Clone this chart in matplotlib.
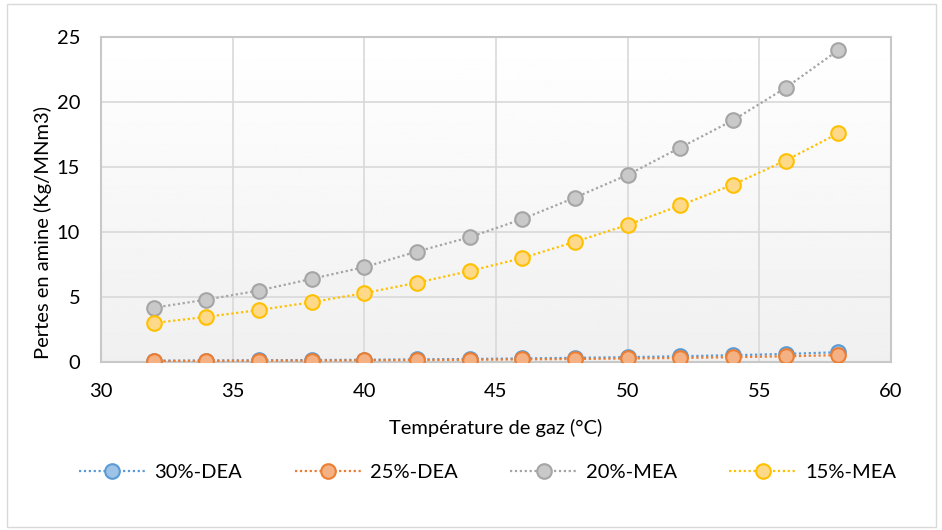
import numpy as np
import matplotlib
matplotlib.use("Agg")
import matplotlib.pyplot as plt
from matplotlib.patches import Rectangle

plt.rcParams['font.family'] = ['Lato', 'DejaVu Sans']

temperature = [32, 34, 36, 38, 40, 42, 44, 46, 48, 50, 52, 54, 56, 58]
dea_30 = [0.10, 0.11, 0.13, 0.15, 0.17, 0.20, 0.23, 0.27, 0.32, 0.37, 0.44, 0.52, 0.62, 0.75]
dea_25 = [0.08, 0.09, 0.10, 0.11, 0.13, 0.15, 0.17, 0.20, 0.23, 0.27, 0.31, 0.37, 0.44, 0.53]
mea_20 = [4.17, 4.8, 5.5, 6.4, 7.3, 8.5, 9.6, 11.0, 12.65, 14.4, 16.5, 18.6, 21.1, 24.0]
mea_15 = [3.0, 3.47, 4.0, 4.6, 5.3, 6.1, 7.0, 8.0, 9.25, 10.55, 12.05, 13.65, 15.5, 17.6]

series = [
    ("30%-DEA", dea_30, "#5b9bd5", "#9dc3e6"),
    ("25%-DEA", dea_25, "#ed7d31", "#f4b183"),
    ("20%-MEA", mea_20, "#a5a5a5", "#c9c9c9"),
    ("15%-MEA", mea_15, "#ffc000", "#ffd98a"),
]

FS = 14.5

fig = plt.figure(figsize=(9.42, 5.30), dpi=100)
fig.patches.append(Rectangle((0.007, 0.006), 0.987, 0.986, transform=fig.transFigure,
                             fill=False, edgecolor="#d9d9d9", linewidth=1.0))

ax = fig.add_axes([0.1072, 0.317, 0.8387, 0.613])

# soft vertical gradient behind the plot area
grad = np.linspace(1.0, 0.94, 256).reshape(-1, 1)
ax.imshow(grad, extent=[0, 1, 0, 1], transform=ax.transAxes, cmap="gray",
          vmin=0, vmax=1, aspect="auto", zorder=0, origin="upper")

for name, vals, edge, face in series:
    ax.plot(temperature, vals, linestyle=(0, (1, 1.2)), color=edge, linewidth=1.6,
            marker="o", markersize=10.5, markerfacecolor=face,
            markeredgecolor=edge, markeredgewidth=1.5, label=name, zorder=3)

ax.set_xlim(30, 60)
ax.set_ylim(0, 25)
ax.set_xticks(np.arange(30, 61, 5))
ax.set_yticks(np.arange(0, 26, 5))
ax.grid(True, color="#d9d9d9", linewidth=1.2, zorder=1)
ax.set_axisbelow(True)
for sp in ax.spines.values():
    sp.set_color("#c8c8c8")
    sp.set_linewidth(1.5)
ax.tick_params(axis="x", length=0, labelsize=FS, pad=15, colors="black")
ax.tick_params(axis="y", length=0, labelsize=FS, pad=15, colors="black")

ax.set_xlabel("Température de gaz (°C)", fontsize=FS, labelpad=14)
ax.set_ylabel("Pertes en amine (Kg/MNm3)", fontsize=FS)
ax.yaxis.set_label_coords(-0.062, 0.40)

fig.legend(loc="center", bbox_to_anchor=(0.5175, 0.109), ncol=4, frameon=False,
           fontsize=FS, columnspacing=2.6, handlelength=3.3, handletextpad=0.45)

fig.savefig("out.png", dpi=100)
